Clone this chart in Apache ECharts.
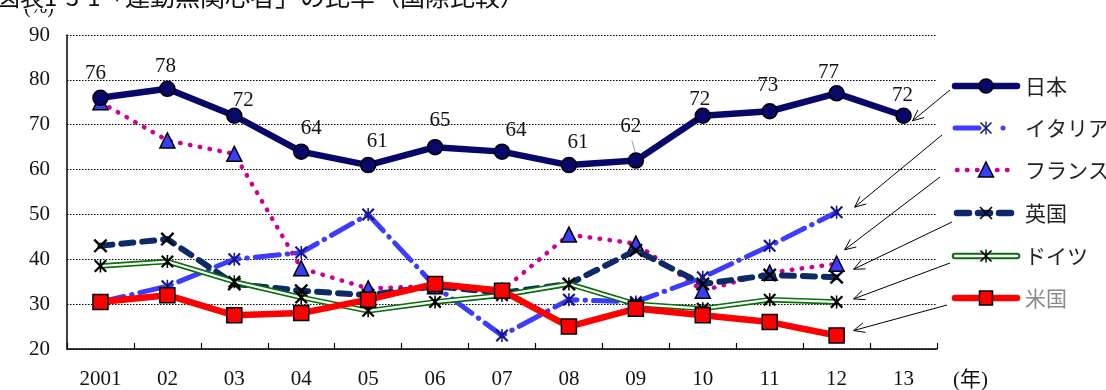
<!DOCTYPE html>
<html>
<head>
<meta charset="utf-8">
<script src="https://cdn.jsdelivr.net/npm/echarts@6/dist/echarts.min.js"></script>
<style>
  html, body { margin: 0; padding: 0; background: #fff; }
  #chart { width: 1106px; height: 390px; }
</style>
</head>
<body>
<div id="chart"></div>
<script>
// Survey years and the share (%) in each country
const years   = ['2001', '02', '03', '04', '05', '06', '07', '08', '09', '10', '11', '12', '13'];
const japan   = [76, 78, 72, 64, 61, 65, 64, 61, 62, 72, 73, 77, 72];
const italy   = [30.5, 34, 40, 41.5, 50, 34, 23, 31, 30.5, 36, 43, 50.5];
const france  = [75, 66.5, 63.5, 38, 33.5, 34, 33, 45.5, 43.5, 33, 37, 39];
const uk      = [43, 44.5, 34.5, 33, 32, 34, 32.5, 34.5, 42, 34.5, 36.5, 36];
const germany = [38.5, 39.5, 35, 31.5, 28.5, 30.5, 32, 34.5, 30, 29, 31, 30.5];
const usa     = [30.5, 32, 27.5, 28, 31, 34.5, 33, 25, 29, 27.5, 26, 23];
const seriesNames = ['日本', 'イタリア', 'フランス', '英国', 'ドイツ', '米国'];

// Nudges for the value labels on the Japan line so they sit clear of the line
const japanLabelOffsets = [[-5, -1], [-2, 1], [9, 8], [10, 1], [9, 0], [5, -3], [14, 3],
                           [9, 1], [-5, -10], [-3, 7], [-2, -2], [-8, 3], [-1, 3]];

const NAVY = '#08086a';
const BLUE = '#3c3cff';
const ITALY_MARK = '#16168c';
const MAGENTA = '#cc0099';
const UK_NAVY = '#0b2a66';
const GREEN = '#0a6e0a';
const RED = '#ff0000';

const X_PATH = 'path://M0,1.2L1.2,0L10,8.8L8.8,10ZM8.8,0L10,1.2L1.2,10L0,8.8Z';
const STAR_PATH = 'path://M0,1.2L1.2,0L10,8.8L8.8,10ZM8.8,0L10,1.2L1.2,10L0,8.8ZM4.4,0L5.6,0L5.6,10L4.4,10Z';

const SERIF = '"Liberation Serif", "Times New Roman", serif';
const JP = '"Noto Sans CJK JP", sans-serif';

const chart = echarts.init(document.getElementById('chart'), null, { renderer: 'canvas' });

chart.setOption({
  animation: false,
  backgroundColor: '#fff',
  grid: { left: 67, right: 169, top: 35, bottom: 41, containLabel: false },
  xAxis: {
    type: 'category',
    data: years,
    boundaryGap: true,
    axisLine: { lineStyle: { color: '#000', width: 1.5 } },
    axisTick: { show: true, inside: true, length: 6, lineStyle: { color: '#000', width: 1.2 } },
    axisLabel: { fontFamily: SERIF, fontSize: 21, color: '#111', margin: 20 },
    splitLine: { show: false }
  },
  yAxis: {
    type: 'value',
    min: 20, max: 90, interval: 10,
    axisLine: { show: true, lineStyle: { color: '#000', width: 1.5 } },
    axisTick: { show: false },
    axisLabel: { fontFamily: SERIF, fontSize: 21, color: '#111', margin: 17 },
    splitLine: { show: true, lineStyle: { color: '#000', width: 1.2, type: [1.5, 1.5] } }
  },
  series: [
    {
      name: 'フランス', type: 'line', data: france,
      lineStyle: { color: MAGENTA, width: 4.5, type: [0.5, 9.5], cap: 'round' },
      symbol: 'triangle', symbolSize: [15, 15],
      itemStyle: { color: BLUE, borderColor: '#000', borderWidth: 1.5 },
      z: 2
    },
    {
      name: 'イタリア', type: 'line', data: italy,
      lineStyle: { color: BLUE, width: 5, type: [24, 8, 0.5, 8], cap: 'round' },
      symbol: STAR_PATH, symbolSize: 13,
      itemStyle: { color: ITALY_MARK, borderWidth: 0 },
      z: 3
    },
    {
      name: '英国', type: 'line', data: uk,
      lineStyle: { color: UK_NAVY, width: 6, type: [12, 9], cap: 'round' },
      symbol: X_PATH, symbolSize: 14,
      itemStyle: { color: '#000', borderWidth: 0 },
      z: 4
    },
    {
      name: 'ドイツ外枠', type: 'line', data: germany,
      lineStyle: { color: GREEN, width: 5.5 },
      showSymbol: false, silent: true,
      z: 5
    },
    {
      name: 'ドイツ', type: 'line', data: germany,
      lineStyle: { color: '#fff', width: 2.2 },
      symbol: STAR_PATH, symbolSize: 13,
      itemStyle: { color: '#000', borderWidth: 0 },
      z: 6
    },
    {
      name: '米国', type: 'line', data: usa,
      lineStyle: { color: RED, width: 6.5 },
      symbol: 'rect', symbolSize: 15,
      itemStyle: { color: RED, borderColor: '#000', borderWidth: 1.5 },
      z: 7
    },
    {
      name: '日本', type: 'line',
      data: japan.map((v, i) => ({ value: v, label: { offset: japanLabelOffsets[i] } })),
      lineStyle: { color: NAVY, width: 6.5 },
      symbol: 'circle', symbolSize: 15,
      itemStyle: { color: NAVY, borderColor: '#000', borderWidth: 1.5 },
      label: {
        show: true, position: 'top', distance: 5,
        fontFamily: SERIF, fontSize: 21, color: '#111',
        formatter: '{c}'
      },
      z: 8
    }
  ]
});

// ---- legend, arrows and side captions ----
const legendRows = [86, 128, 170, 213, 256, 298];
const LX0 = 955, LX1 = 1017, LXC = 986, LTX = 1025;

function xMark(cx, cy, s, color, withBar) {
  const h = s / 2;
  const els = [
    { type: 'line', shape: { x1: cx - h, y1: cy - h, x2: cx + h, y2: cy + h }, style: { stroke: color, lineWidth: 1.6 } },
    { type: 'line', shape: { x1: cx + h, y1: cy - h, x2: cx - h, y2: cy + h }, style: { stroke: color, lineWidth: 1.6 } }
  ];
  if (withBar) {
    els.push({ type: 'line', shape: { x1: cx, y1: cy - h - 1, x2: cx, y2: cy + h + 1 }, style: { stroke: color, lineWidth: 1.4 } });
  }
  return els;
}

function legendGraphics() {
  const g = [];
  const [yJ, yI, yF, yU, yG, yA] = legendRows;
  // 日本
  g.push({ type: 'line', shape: { x1: LX0, y1: yJ, x2: LX1, y2: yJ }, style: { stroke: NAVY, lineWidth: 6.5, lineCap: 'round' } });
  g.push({ type: 'circle', shape: { cx: LXC, cy: yJ, r: 7 }, style: { fill: NAVY, stroke: '#000', lineWidth: 1.5 } });
  // イタリア
  g.push({ type: 'line', shape: { x1: LX0, y1: yI, x2: 979, y2: yI }, style: { stroke: BLUE, lineWidth: 5, lineCap: 'round' } });
  g.push(...xMark(LXC, yI, 11, ITALY_MARK, true));
  g.push({ type: 'circle', shape: { cx: 1003, cy: yI, r: 2.5 }, style: { fill: BLUE } });
  // フランス
  g.push({ type: 'line', shape: { x1: LX0 + 2, y1: yF, x2: LX1, y2: yF }, style: { stroke: MAGENTA, lineWidth: 4.5, lineCap: 'round', lineDash: [0.5, 9.5] } });
  g.push({ type: 'polygon', shape: { points: [[LXC, yF - 8], [LXC + 7.5, yF + 7], [LXC - 7.5, yF + 7]] }, style: { fill: BLUE, stroke: '#000', lineWidth: 1.5 } });
  // 英国
  g.push({ type: 'line', shape: { x1: LX0 + 2, y1: yU, x2: LX1, y2: yU }, style: { stroke: UK_NAVY, lineWidth: 6.5, lineCap: 'round', lineDash: [12, 9] } });
  g.push(...xMark(LXC, yU, 12, '#000', false));
  // ドイツ
  g.push({ type: 'line', shape: { x1: LX0, y1: yG, x2: LX1, y2: yG }, style: { stroke: GREEN, lineWidth: 6.5, lineCap: 'round' } });
  g.push({ type: 'line', shape: { x1: LX0, y1: yG, x2: LX1, y2: yG }, style: { stroke: '#fff', lineWidth: 2.5, lineCap: 'round' } });
  g.push(...xMark(LXC, yG, 11, '#000', true));
  // 米国
  g.push({ type: 'line', shape: { x1: LX0, y1: yA, x2: LX1, y2: yA }, style: { stroke: RED, lineWidth: 6.5, lineCap: 'round' } });
  g.push({ type: 'rect', shape: { x: LXC - 6.5, y: yA - 7, width: 13, height: 14 }, style: { fill: RED, stroke: '#000', lineWidth: 1.5 } });

  seriesNames.forEach((name, i) => {
    g.push({
      type: 'text', x: LTX, y: legendRows[i],
      style: { text: name, fontFamily: JP, fontSize: 21, fill: name === '米国' ? '#8a8a8a' : '#222', align: 'left', verticalAlign: 'middle' }
    });
  });
  return g;
}

function arrow(x1, y1, x2, y2) {
  const ang = Math.atan2(y2 - y1, x2 - x1);
  const len = 12, spread = 0.42;
  const a1 = ang + Math.PI - spread, a2 = ang + Math.PI + spread;
  return [
    { type: 'line', shape: { x1, y1, x2, y2 }, style: { stroke: '#000', lineWidth: 1 } },
    { type: 'polyline', shape: { points: [[x2 + len * Math.cos(a1), y2 + len * Math.sin(a1)], [x2, y2], [x2 + len * Math.cos(a2), y2 + len * Math.sin(a2)]] },
      style: { stroke: '#000', lineWidth: 1, fill: null } }
  ];
}

function buildOverlay() {
  const px = (i, v) => chart.convertToPixel({ gridIndex: 0 }, [i, v]);
  const g = legendGraphics();

  // arrows from each legend entry to the last point of its series
  const ends = [
    { start: [950, 90],  pt: px(japan.length - 1, japan[japan.length - 1]),       d: [9, 5] },
    { start: [942, 135], pt: px(italy.length - 1, italy[italy.length - 1]),       d: [18, -5] },
    { start: [940, 177], pt: px(france.length - 1, france[france.length - 1]),    d: [8, -14] },
    { start: [952, 222], pt: px(uk.length - 1, uk[uk.length - 1]),               d: [17, -8] },
    { start: [950, 263], pt: px(germany.length - 1, germany[germany.length - 1]), d: [17, -3] },
    { start: [947, 305], pt: px(usa.length - 1, usa[usa.length - 1]),            d: [17, -5] }
  ];
  ends.forEach(e => g.push(...arrow(e.start[0], e.start[1], e.pt[0] + e.d[0], e.pt[1] + e.d[1])));

  // short leader from the 2009 label to its point
  const p09 = px(8, japan[8]);
  g.push({ type: 'line', shape: { x1: p09[0] - 4, y1: p09[1] - 20, x2: p09[0], y2: p09[1] - 6 }, style: { stroke: '#999', lineWidth: 1 } });

  // unit caption above the value axis
  g.push({ type: 'text', x: 39, y: 8, style: { text: '(%)', fontFamily: SERIF, fontSize: 20, fill: '#111', align: 'center', verticalAlign: 'middle' } });
  g.push({ type: 'text', x: 953, y: 380, style: { text: '(年)', fontFamily: SERIF + ', "Noto Sans CJK JP"', fontSize: 21, fill: '#111', align: 'left', verticalAlign: 'middle' } });

  // heading band along the top edge, drawn over the unit caption
  g.push({ type: 'rect', shape: { x: 0, y: -30, width: 620, height: 39 }, style: { fill: '#fff' }, z: 50 });
  g.push({ type: 'text', x: -4, y: 9, z: 51, style: { text: '図表1-3-1', fontFamily: JP, fontSize: 24, fill: '#111', align: 'left', verticalAlign: 'bottom' } });
  g.push({ type: 'text', x: 100, y: 9, z: 51, style: { text: '「運動無関心者」の比率（国際比較）', fontFamily: JP, fontSize: 25, fill: '#111', align: 'left', verticalAlign: 'bottom' } });

  chart.setOption({ graphic: g });
}

buildOverlay();
</script>
</body>
</html>
